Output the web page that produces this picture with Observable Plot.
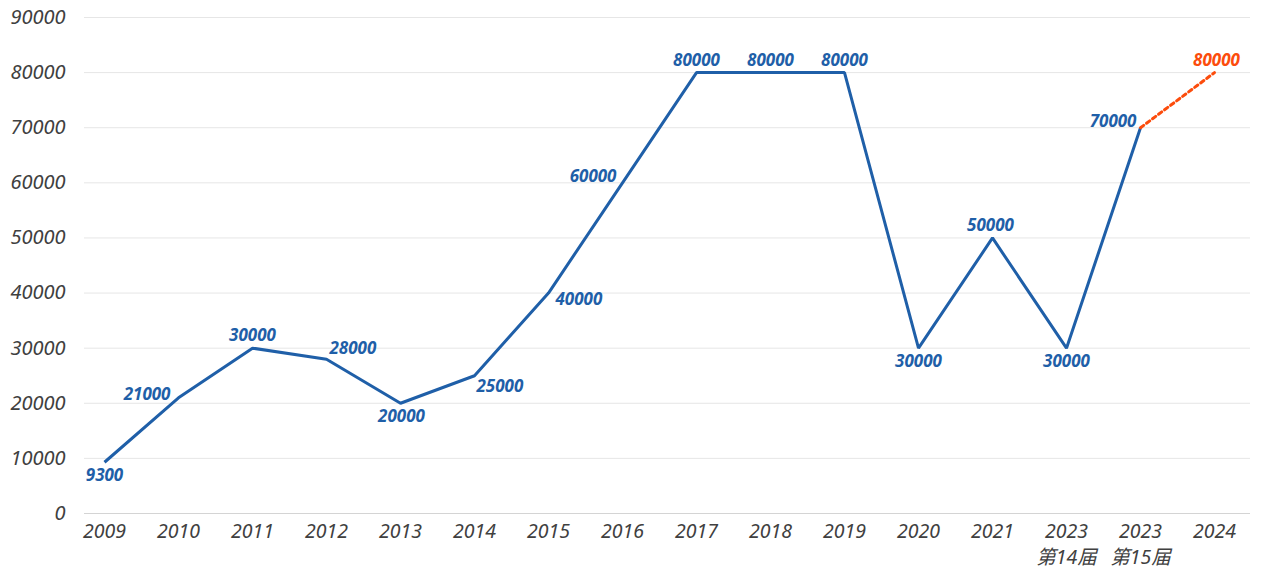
<!DOCTYPE html>
<html>
<head>
<meta charset="utf-8">
<script src="https://cdn.jsdelivr.net/npm/d3@7"></script>
<script src="https://cdn.jsdelivr.net/npm/@observablehq/plot@0.6"></script>
<style>
  html, body { margin: 0; padding: 0; background: #fff; }
  #chart { width: 1268px; height: 588px; }
</style>
</head>
<body>
<div id="chart"></div>
<script>
// ---- Data ----
const categories = ["2009","2010","2011","2012","2013","2014","2015","2016","2017","2018","2019","2020","2021","2023a","2023b","2024"];
const tickLabels = ["2009","2010","2011","2012","2013","2014","2015","2016","2017","2018","2019","2020","2021","2023\n第14届","2023\n第15届","2024"];
const values = [9300, 21000, 30000, 28000, 20000, 25000, 40000, 60000, 80000, 80000, 80000, 30000, 50000, 30000, 70000, 80000];
const valueLabels = ["9300","21000","30000","28000","20000","25000","40000","60000","80000","80000","80000","30000","50000","30000","70000","80000"];
const forecastStart = 14; // last actual point; dashed segment continues to 2024
const yTicks = [0, 10000, 20000, 30000, 40000, 50000, 60000, 70000, 80000, 90000];

// ---- Label placement (layout only) ----
// [textAnchor, dx, dy]
const placement = [
  ["middle", 0, 13], ["end", -8, -3], ["middle", 0, -13], ["start", 3, -11],
  ["middle", 1, 13], ["start", 2, 11], ["start", 7, 6], ["end", -6, -6],
  ["middle", 0, -12], ["middle", 0, -12], ["middle", 0, -12], ["middle", 0, 13],
  ["middle", -2, -12], ["middle", 0, 13], ["end", -4, -6], ["middle", 2, -12]
];

const rows = categories.map((c, i) => ({c, v: values[i], label: valueLabels[i], i}));
const actual = rows.slice(0, forecastStart + 1);
const forecast = rows.slice(forecastStart);

const blue = "#1f5fa8";
const red = "#fc4c0c";
const font = "'Noto Sans', 'Noto Sans CJK SC', sans-serif";

const labelMarks = rows.map((r, i) => Plot.text([r], {
  x: "c", y: "v", text: "label",
  textAnchor: placement[i][0], dx: placement[i][1], dy: placement[i][2],
  fill: i === rows.length - 1 ? red : blue,
  fontSize: 17, fontWeight: "bold", fontStyle: "italic", fontFamily: font
}));

const chart = Plot.plot({
  width: 1268,
  height: 588,
  marginLeft: 84,
  marginRight: 18,
  marginTop: 17,
  marginBottom: 75,
  style: {fontFamily: font, background: "#fff"},
  x: {type: "point", domain: categories, padding: 0.365, align: 0.35},
  y: {domain: [0, 90000]},
  marks: [
    Plot.ruleY(yTicks.slice(1), {stroke: "#e6e6e6", strokeWidth: 1}),
    Plot.ruleY([0], {stroke: "#d4d4d4", strokeWidth: 1}),
    Plot.axisY(yTicks, {
      tickSize: 0, tickPadding: 19, label: null,
      fontSize: 20, fontStyle: "italic", fill: "#404040",
      tickFormat: d => String(d)
    }),
    Plot.axisX({
      tickSize: 0, tickPadding: 6, label: null,
      fontSize: 19.5, fontStyle: "italic", fill: "#404040", lineHeight: 1.33,
      tickFormat: d => tickLabels[categories.indexOf(d)]
    }),
    Plot.line(actual, {x: "c", y: "v", stroke: blue, strokeWidth: 3, strokeLinejoin: "miter", strokeLinecap: "butt"}),
    Plot.line(forecast, {x: "c", y: "v", stroke: red, strokeWidth: 3, strokeDasharray: "4,3.5"}),
    ...labelMarks
  ]
});
document.getElementById("chart").appendChild(chart);
</script>
</body>
</html>
